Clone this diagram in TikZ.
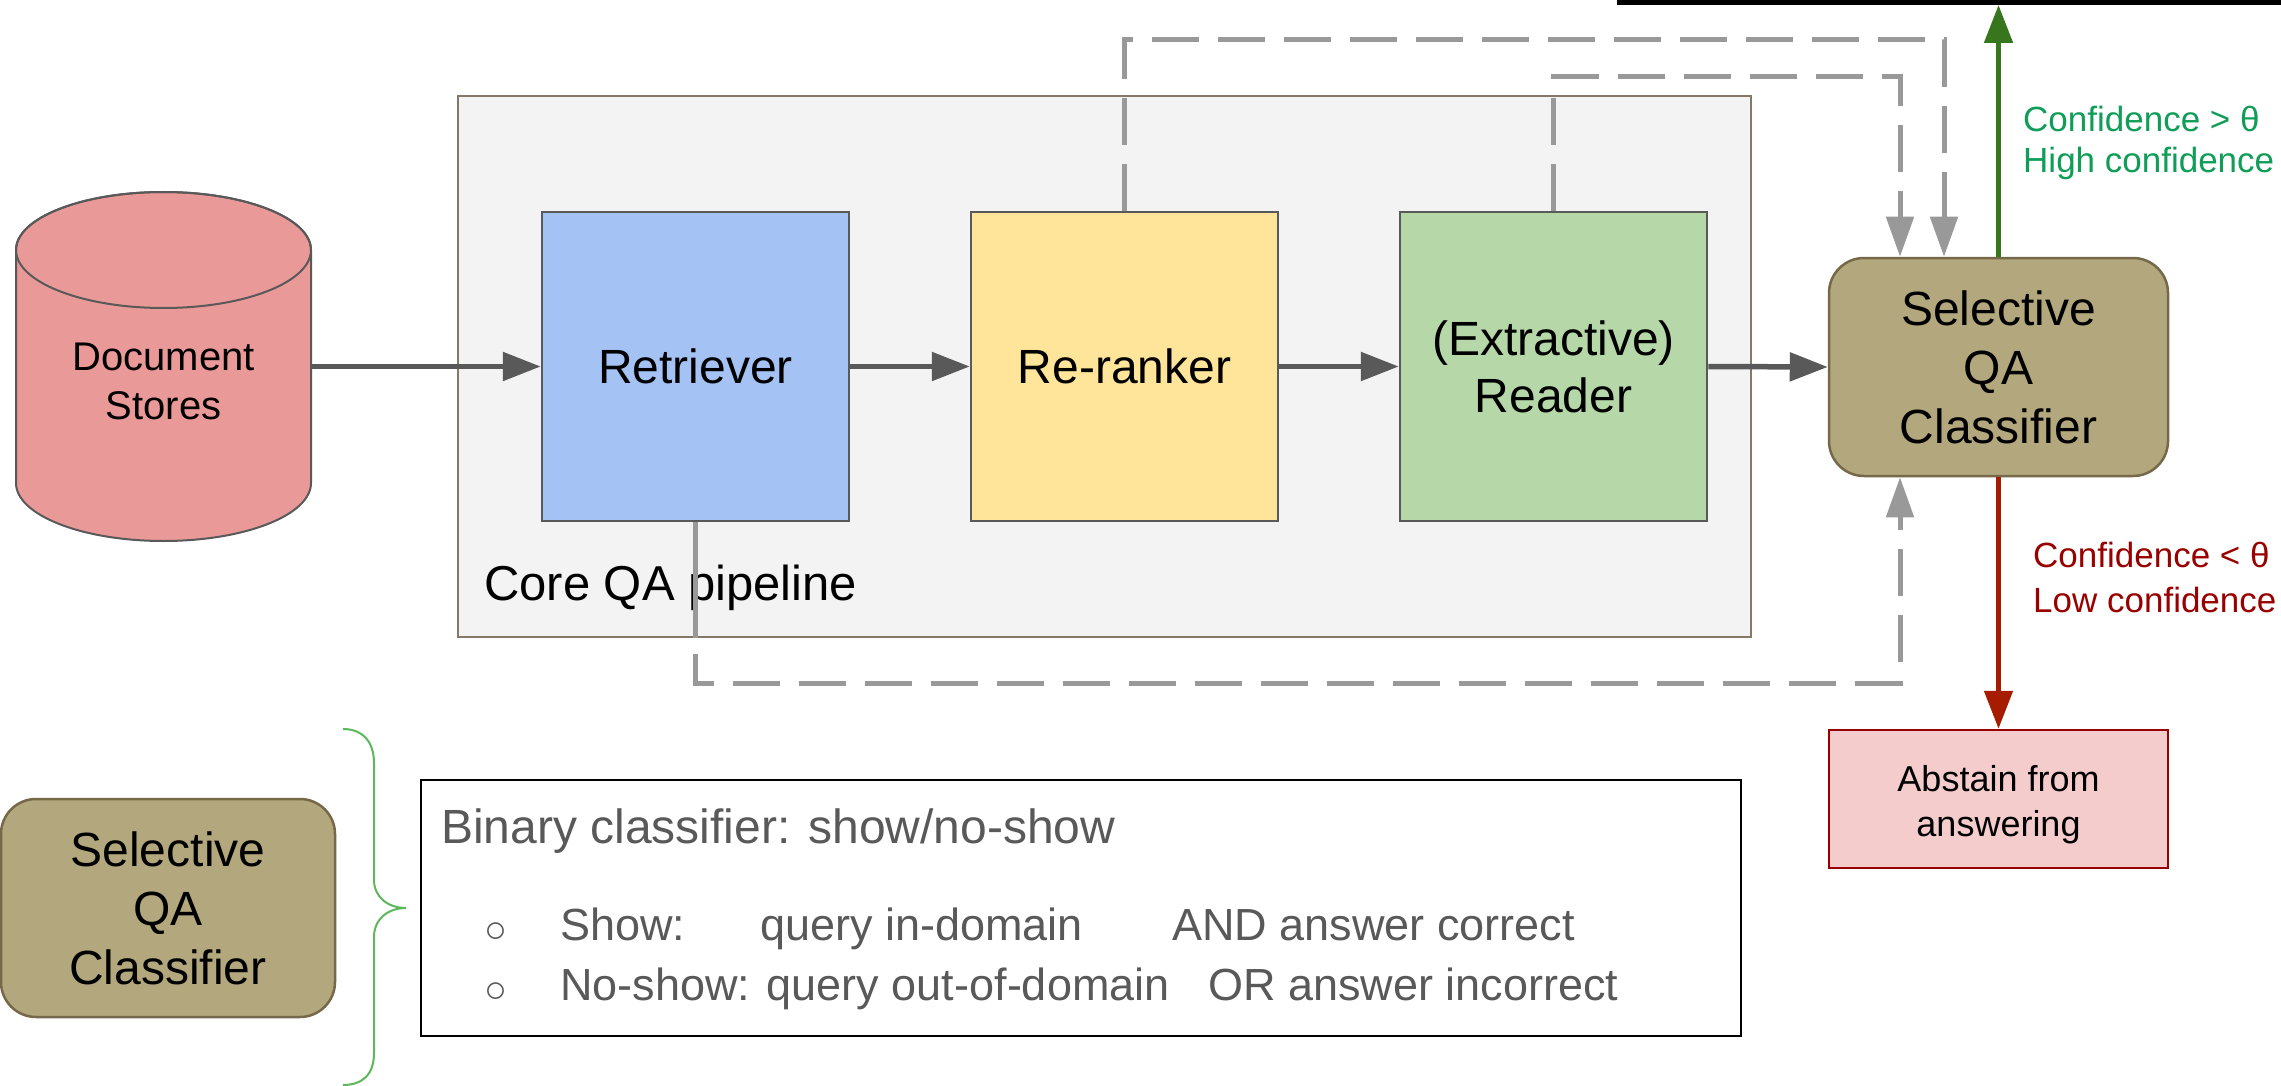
\documentclass[tikz,border=0pt]{standalone}
\usepackage{fontspec}
\setmainfont{Liberation Sans}
\usetikzlibrary{arrows.meta,calc}
\definecolor{dg}{HTML}{595959}
\definecolor{lg}{HTML}{999999}
\definecolor{coref}{HTML}{F3F3F3}
\definecolor{corel}{HTML}{857867}
\definecolor{retf}{HTML}{A4C2F4}
\definecolor{rrf}{HTML}{FFE599}
\definecolor{rdf}{HTML}{B6D7A8}
\definecolor{clsf}{HTML}{B3A77D}
\definecolor{clsl}{HTML}{76694A}
\definecolor{dsf}{HTML}{EA9999}
\definecolor{absf}{HTML}{F4CCCC}
\definecolor{absl}{HTML}{990000}
\definecolor{garr}{HTML}{38761D}
\definecolor{rarr}{HTML}{A61C00}
\definecolor{gtxt}{HTML}{0F9D58}
\definecolor{rtxt}{HTML}{990000}
\definecolor{bracec}{HTML}{5DB85C}
\tikzset{
  stagebox/.style={draw=dg, line width=2.5pt, minimum width=307pt, minimum height=309pt, inner sep=0pt, align=center, font=\fontsize{48}{57}\selectfont},
  clsbox/.style={draw=clsl, fill=clsf, line width=2.5pt, rounded corners=35pt, minimum width=339pt, minimum height=218pt, inner sep=0pt, align=center, font=\fontsize{48}{59}\selectfont},
  flow/.style={draw=dg, line width=5.5pt, -{Triangle[length=38pt,width=28pt]}},
  fback/.style={draw=lg, line width=5pt, dash pattern=on 47pt off 19pt, -{Triangle[length=40pt,width=27pt]}},
  listtxt/.style={anchor=base west, inner sep=0pt, text=dg, font=\fontsize{45}{54}\selectfont},
  bullet/.style={text=dg, inner sep=0pt, font=\fontsize{38}{44}\selectfont},
  conftxt/.style={anchor=base west, inner sep=0pt, font=\fontsize{35}{42}\selectfont},
}
\begin{document}
\begin{tikzpicture}[x=1pt,y=-1pt]
\useasboundingbox (0,0) rectangle (2281,1086);

% clipped black bar at the top
\fill[black] (1617,0) rectangle (2281,5);

% Core QA pipeline container
\node[draw=corel, fill=coref, line width=2pt, minimum width=1293pt, minimum height=541pt, inner sep=0pt] (core) at (1104.5,366.5) {};
\node[anchor=base west, inner sep=0pt, font=\fontsize{49}{58}\selectfont] (corelbl) at (484,600) {Core QA pipeline};

% Document store cylinder
\node[minimum width=295pt, minimum height=349pt, inner sep=0pt] (ds) at (163.5,366.5) {};
\filldraw[fill=dsf, draw=dg, line width=2pt]
  (16,250) -- (16,483)
  .. controls (16,515) and (82,541) .. (163.5,541)
  .. controls (245,541) and (311,515) .. (311,483)
  -- (311,250)
  .. controls (311,218) and (245,192) .. (163.5,192)
  .. controls (82,192) and (16,218) .. (16,250) -- cycle;
\draw[draw=dg, line width=2pt] (163.5,250) ellipse [x radius=147.5, y radius=58];
\node[align=center, font=\fontsize{40}{49}\selectfont] (dstxt) at (163.5,381) {Document\\Stores};

% pipeline stages
\node[stagebox, fill=retf] (ret) at (695.5,366.5) {Retriever};
\node[stagebox, fill=rrf] (rr) at (1124.5,366.5) {Re-ranker};
\node[stagebox, fill=rdf] (rd) at (1553.5,366.5) {(Extractive)\\Reader};
\node[clsbox] (cls) at (1998.5,367) {Selective\\QA\\Classifier};

% abstain box
\node[draw=absl, fill=absf, line width=2.5pt, minimum width=339pt, minimum height=138pt, inner sep=0pt] (abs) at (1998.5,799) {};
\node[align=center, inner sep=0pt, font=\fontsize{36}{45}\selectfont] (abstxt) at (1998.5,805) {Abstain from\\answering};

% main flow
\draw[flow] (ds.east) -- (ret.west);
\draw[flow] (ret.east) -- (rr.west);
\draw[flow] (rr.east) -- (rd.west);
\draw[flow] (rd.east) -- (cls.west);

% dashed feedback connectors
\coordinate (fa) at (1944,40);
\coordinate (fb) at (1900,77);
\coordinate (fc) at (1900,683);
\draw[fback] (rr.north) |- (fa) -- (fa |- cls.north);
\draw[fback] (rd.north) |- (fb) -- (fb |- cls.north);
\draw[fback] (ret.south) |- (fc) -- (fc |- cls.south);
\draw[draw=lg, line width=5pt] (ret.south) -- (ret.south |- core.south);

% decision arrows
\coordinate (hi) at (1998.5,5);
\draw[draw=garr, line width=5pt, -{Triangle[length=38pt,width=28pt]}] (cls.north) -- (hi);
\draw[draw=rarr, line width=5pt, -{Triangle[length=38pt,width=28pt]}] (cls.south) -- (abs.north);
\node[conftxt, text=gtxt] (g1) at (2023,132) {Confidence > θ};
\node[conftxt, text=gtxt] (g2) at (2023,173) {High confidence};
\node[conftxt, text=rtxt] (r1) at (2033,567) {Confidence < θ};
\node[conftxt, text=rtxt] (r2) at (2033,612) {Low confidence};

% legend
\node[clsbox, minimum width=334pt] (cls2) at (168,908) {Selective\\QA\\Classifier};
\draw[draw=bracec, line width=2pt] (343,729)
  .. controls (362,729) and (374,741) .. (374,763) -- (374,880)
  .. controls (374,897) and (388,908) .. (406,908)
  .. controls (388,908) and (374,919) .. (374,937) -- (374,1053)
  .. controls (374,1075) and (362,1085) .. (343,1085);
\node[draw=black, fill=white, line width=2.5pt, minimum width=1320pt, minimum height=256pt, inner sep=0pt] (tb) at (1081,908) {};
\node[anchor=base west, inner sep=0pt, text=dg, font=\fontsize{48}{57}\selectfont] (tbt) at (441,843) {Binary classifier: show/no-show};
\node[bullet] (b1) at (495.5,933) {○};
\node[bullet] (b2) at (495.5,993) {○};
\node[listtxt] (l1a) at (560,940) {Show:};
\node[listtxt] (l1b) at (760,940) {query in-domain};
\node[listtxt] (l1c) at (1172,940) {AND answer correct};
\node[listtxt] (l2a) at (560,1000) {No-show: query out-of-domain};
\node[listtxt] (l2b) at (1208,1000) {OR};
\node[listtxt] (l2c) at (1288,1000) {answer incorrect};
\end{tikzpicture}
\end{document}
